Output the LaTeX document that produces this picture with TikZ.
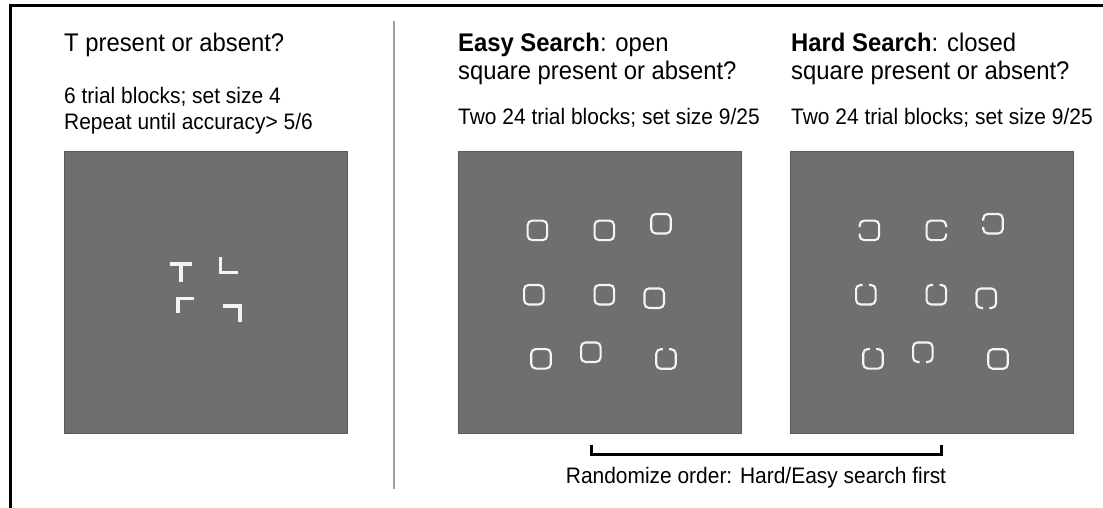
\documentclass[tikz,border=0pt]{standalone}
\usepackage{fontspec}
\setmainfont{Liberation Sans}[FakeStretch=0.935]
\usetikzlibrary{calc}

\definecolor{panelgray}{HTML}{6F6F6F}
\definecolor{paneledge}{HTML}{5A5A5A}
\definecolor{rulegray}{HTML}{A0A0A0}
\definecolor{stimwhite}{HTML}{F4F4F4}

% closed rounded square centred at #1
\newcommand\closedsq[1]{%
  \begin{scope}[shift={#1}]
    \draw[sqline] (-9.75,-9.75) rectangle (9.75,9.75);
  \end{scope}}
% rounded square with a gap in one side; #2 = 0 top, 90 left, 180 bottom, 270 right
\newcommand\opensq[2]{%
  \begin{scope}[shift={#1}, rotate=#2]
    \draw[sqline] (3.2,-9.75) -- (9.75,-9.75) -- (9.75,9.75) -- (-9.75,9.75)
      -- (-9.75,-9.75) -- (-3.2,-9.75);
  \end{scope}}

\tikzset{
  panel/.style={fill=panelgray, draw=paneledge, line width=1pt,
    minimum width=283pt, minimum height=282pt, inner sep=0pt,
    anchor=north west},
  sqline/.style={draw=stimwhite, line width=2.1pt, rounded corners=4.5pt},
  bar/.style={draw=stimwhite, line width=3.6pt, line join=miter},
  title/.style={anchor=base west, inner sep=0pt,
    font=\fontsize{25.5}{30}\selectfont},
  info/.style={anchor=base west, inner sep=0pt,
    font=\fontsize{22.4}{26}\selectfont},
}

\begin{document}
\begin{tikzpicture}[x=1pt, y=-1pt]
  \useasboundingbox (0,0) rectangle (1103,508);
  \fill[white] (0,0) rectangle (1103,508);

  % frame: top and left rules
  \draw[line width=3pt] (10.3,508) -- (10.3,5.3) -- (1103,5.3);
  % divider between practice and main task
  \draw[rulegray, line width=2pt] (394.3,21) -- (394.3,489);

  % ---- practice block ----
  \node[title] (t1) at (64,52) {T present or absent?};
  \node[info] (i1a) at (64,104) {6 trial blocks; set size 4};
  \node[info] (i1b) at (64,130) {Repeat until accuracy> 5/6};
  \node[panel] (p1) at (64,151) {};
  % T and rotated L distractors
  \draw[bar] (170,264) -- (192,264);
  \draw[bar] (181,262.2) -- (181,282);
  \draw[bar] (220.5,257) |- (237.5,272.5);
  \draw[bar] (178,313) |- (194,298.5);
  \draw[bar] (223,306) -| (240,321.5);

  % ---- easy search ----
  \node[title] (t2a) at (458,52) {\textbf{Easy Search}: open};
  \node[title] (t2b) at (458,80) {square present or absent?};
  \node[info] (i2) at (458,125) {Two 24 trial blocks; set size 9/25};
  \node[panel] (p2) at (458,151) {};
  \begin{scope}[shift={(p2.north west)}]
    \closedsq{(79.4,79.4)}
    \closedsq{(146.3,79.4)}
    \closedsq{(203,72.7)}
    \closedsq{(75.8,143.7)}
    \closedsq{(146.3,143.7)}
    \closedsq{(196.2,147.2)}
    \closedsq{(83,207.8)}
    \closedsq{(132.8,201.2)}
    \opensq{(208,208)}{0}
  \end{scope}

  % ---- hard search ----
  \node[title] (t3a) at (791,52) {\textbf{Hard Search}: closed};
  \node[title] (t3b) at (791,80) {square present or absent?};
  \node[info] (i3) at (791,125) {Two 24 trial blocks; set size 9/25};
  \node[panel] (p3) at (790,151) {};
  \begin{scope}[shift={(p3.north west)}]
    \opensq{(79.4,79.4)}{90}
    \opensq{(146.3,79.4)}{270}
    \opensq{(203,72.7)}{90}
    \opensq{(75.8,143.7)}{0}
    \opensq{(146.3,143.7)}{0}
    \opensq{(196.2,147.2)}{180}
    \opensq{(83,207.8)}{0}
    \opensq{(132.8,201.2)}{180}
    \closedsq{(208,208)}
  \end{scope}

  % ---- order bracket ----
  \coordinate (bl) at (591.5,454);
  \coordinate (br) at (941.5,454);
  \draw[line width=3pt] ($(bl)+(0,-9.5)$) -- (bl) -- (br) -- ($(br)+(0,-9.5)$);
  \node[info, anchor=base] (order) at (756,483) {Randomize order: Hard/Easy search first};
\end{tikzpicture}
\end{document}
